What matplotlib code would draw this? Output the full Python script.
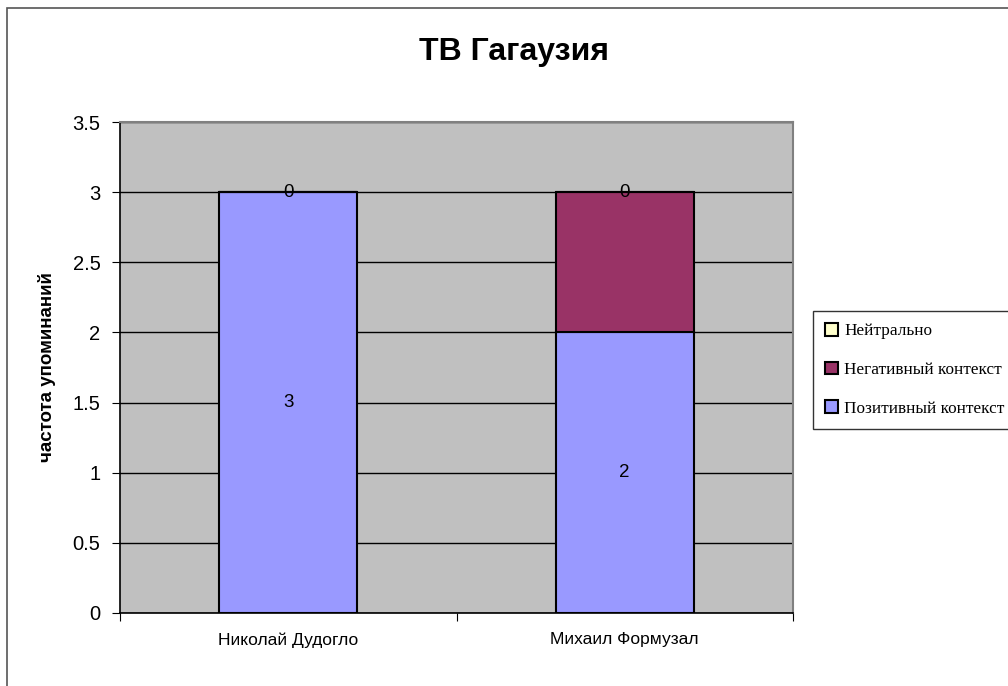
import matplotlib.pyplot as plt
from matplotlib.patches import Rectangle
import numpy as np

categories = ['Николай Дудогло', 'Михаил Формузал']
series_names = ['Позитивный контекст', 'Негативный контекст', 'Нейтрально']
positive = [3, 2]
negative = [0, 1]
neutral = [0, 0]
colors = ['#9999FF', '#993366', '#FFFFCC']
yticks = [0, 0.5, 1, 1.5, 2, 2.5, 3, 3.5]

plt.rcParams['font.family'] = ['Liberation Sans', 'DejaVu Sans']

fig = plt.figure(figsize=(10.08, 6.86), dpi=100)
# outer chart frame
fig.patches.append(Rectangle((7 / 1008, -0.1), 1.2, 1 - 8 / 686 + 0.1, transform=fig.transFigure,
                             fill=False, edgecolor='#555555', linewidth=1.2))

ax = fig.add_axes([120 / 1008, 1 - 613 / 686, 673 / 1008, 491 / 686])
ax.set_facecolor('#C0C0C0')

x = np.arange(len(categories))
w = 0.41
bottom = np.zeros(len(categories))
bars = []
for vals, name, c in zip([positive, negative, neutral], series_names, colors):
    b = ax.bar(x, vals, w, bottom=bottom, color=c, edgecolor='black', linewidth=1.5,
               label=name, zorder=3)
    bars.append(b)
    bottom = bottom + np.array(vals)

# data labels
for i in range(len(categories)):
    ax.text(x[i], positive[i] / 2, str(positive[i]), ha='center', va='center', fontsize=13.5, zorder=4)
    top = positive[i] + negative[i] + neutral[i]
    ax.text(x[i], top, str(neutral[i]), ha='center', va='center', fontsize=13.5, zorder=4)

ax.set_xlim(-0.5, 1.5)
ax.set_ylim(0, 3.5)
ax.set_yticks(yticks)
ax.set_yticklabels(['0', '0.5', '1', '1.5', '2', '2.5', '3', '3.5'], fontsize=14.5)
ax.yaxis.grid(True, color='black', linewidth=1, zorder=1)
ax.set_axisbelow(True)

ax.set_xticks([-0.5, 0.5, 1.5])
ax.set_xticklabels([])
ax.set_xticks(x, minor=True)
ax.set_xticklabels(categories, minor=True, fontsize=12.5)
ax.tick_params(axis='x', which='minor', length=0, pad=14)
ax.tick_params(axis='x', which='major', length=6, direction='out', color='black')
ax.tick_params(axis='y', length=6, direction='out', color='black', pad=8)

for s in ['top', 'right']:
    ax.spines[s].set_color('#808080')
    ax.spines[s].set_linewidth(1.5)
for s in ['left', 'bottom']:
    ax.spines[s].set_color('black')
    ax.spines[s].set_linewidth(1.2)

ax.set_ylabel('частота упоминаний', fontsize=13.5, fontweight='bold', labelpad=12)
fig.text(514 / 1008, 1 - 52 / 686, 'ТВ Гагаузия', ha='center', va='center',
         fontsize=23, fontweight='bold')

handles = [bars[2], bars[1], bars[0]]
labels = [series_names[2], series_names[1], series_names[0]]
leg = fig.legend(handles, labels, loc='upper left', bbox_to_anchor=(813 / 1008, 1 - 311 / 686),
                 prop={'family': 'Liberation Serif', 'size': 12.4}, frameon=True, fancybox=False,
                 edgecolor='black', handlelength=0.75, handleheight=0.75, handletextpad=0.35,
                 labelspacing=1.3, borderpad=0.7, borderaxespad=0)
leg.get_frame().set_linewidth(1.0)

fig.savefig('out.png', dpi=100)
